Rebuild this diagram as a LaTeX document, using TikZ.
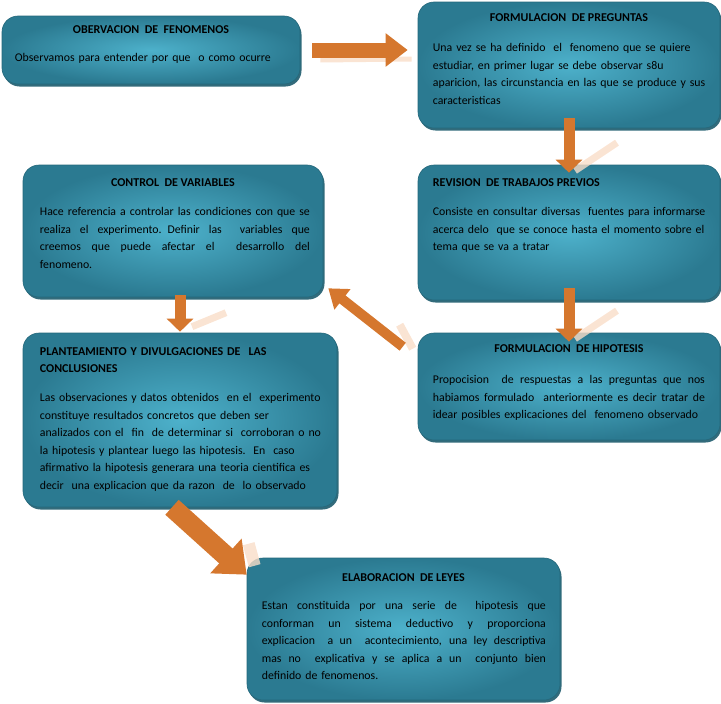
\documentclass[tikz,border=0pt]{standalone}
\usepackage{fontspec}
\setmainfont{Carlito}
\usetikzlibrary{arrows.meta,shadows,calc}

\definecolor{boxlight}{HTML}{4DB1CB}
\definecolor{boxdark}{HTML}{2B7A91}
\definecolor{boxrim}{HTML}{1D5B6D}
\definecolor{arroworange}{HTML}{D5772E}
\definecolor{arrowglow}{HTML}{F9DDC8}

\newcommand\fullline[2]{\makebox[#1][s]{\spaceskip=0.22em plus 1fil\relax #2}\\}

\tikzset{
  stagebox/.style={rounded corners=16pt, inner color=boxlight, outer color=boxdark,
    draw=boxdark!85!black, line width=0.6pt,
    drop shadow={shadow xshift=1.5pt, shadow yshift=-2.5pt, fill=boxrim, opacity=0.9}},
  stagetitle/.style={font=\bfseries\fontsize{12}{17}\selectfont, inner sep=0pt, anchor=base},
  stagetext/.style={font=\fontsize{11.8}{17.5}\selectfont, inner sep=0pt, align=left,
    anchor=base west, text width=#1},
  flow/.style={arroworange, line width=11pt, -{Triangle[length=13pt,width=26pt]}},
  glow/.style={arrowglow, line width=7pt, opacity=0.8},
}

\begin{document}
\begin{tikzpicture}[x=1pt, y=-1pt]
    \useasboundingbox (0,0) rectangle (721,704);

    % Boxes
    \node[stagebox, minimum width=298pt, minimum height=68pt] (obs) at (151,50) {};
    \node[stagebox, minimum width=302pt, minimum height=126pt] (preg) at (569,65) {};
    \node[stagebox, minimum width=302pt, minimum height=135pt] (rev) at (569,232.5) {};
    \node[stagebox, minimum width=300pt, minimum height=132pt] (ctrl) at (173,231) {};
    \node[stagebox, minimum width=302pt, minimum height=107pt] (hip) at (569,386.5) {};
    \node[stagebox, minimum width=314pt, minimum height=174pt] (plan) at (180,420) {};
    \node[stagebox, minimum width=313pt, minimum height=142pt] (ley) at (403.5,629) {};

    % Titles
    \node[stagetitle] (obs-title) at ($(obs.north)+(0,18)$) {OBERVACION\ \ DE\ \ FENOMENOS};
    \node[stagetitle] (preg-title) at ($(preg.north)+(0,20)$) {FORMULACION\ \ DE PREGUNTAS};
    \node[stagetitle, anchor=base west] (rev-title) at ($(rev.north west)+(15,22)$) {REVISION\ \ DE TRABAJOS PREVIOS};
    \node[stagetitle] (ctrl-title) at ($(ctrl.north)+(0,22)$) {CONTROL\ \ DE VARIABLES};
    \node[stagetitle] (hip-title) at ($(hip.north)+(0,20)$) {FORMULACION\ \ DE HIPOTESIS};
    \node[stagetext=290pt, font=\bfseries\fontsize{12}{17}\selectfont] (plan-title) at ($(plan.north west)+(17,23)$)
        {PLANTEAMIENTO Y DIVULGACIONES DE\ \ LAS\\ CONCLUSIONES};
    \node[stagetitle] (ley-title) at ($(ley.north)+(0,24)$) {ELABORACION\ \ DE LEYES};

    % Texts
    \node[stagetext=285pt] (obs-text) at ($(obs.north west)+(13,46)$)
        {Observamos para entender por que\ \ o como ocurre};
    \node[stagetext=285pt] (preg-text) at ($(preg.north west)+(15,50)$)
        {Una vez se ha definido\ \ el\ \ fenomeno que se quiere\\
         estudiar, en primer lugar se debe observar s8u\\
         aparicion, las circunstancia en las que se produce y sus\\
         caracteristicas};
    \node[stagetext=285pt] (rev-text) at ($(rev.north west)+(15,51)$)
        {Consiste en consultar diversas\ \ fuentes para informarse\\
         acerca delo\ \ que se conoce hasta el momento sobre el\\
         tema que se va a tratar};
    \node[stagetext=272pt] (ctrl-text) at ($(ctrl.north west)+(17,51)$)
        {\fullline{270pt}{Hace referencia a controlar las condiciones con que se}
         \fullline{270pt}{realiza el experimento. Definir las\ \ variables que}
         \fullline{270pt}{creemos que puede afectar el\ \ desarrollo del}
         fenomeno.};
    \node[stagetext=274pt] (hip-text) at ($(hip.north west)+(15,51)$)
        {\fullline{272pt}{Propocision\ \ de respuestas a las preguntas que nos}
         \fullline{272pt}{habiamos formulado\ \ anteriormente es decir tratar de}
         idear posibles explicaciones del\ \ fenomeno observado};
    \node[stagetext=295pt] (plan-text) at ($(plan.north west)+(17,69)$)
        {Las observaciones y datos obtenidos\ \ en el\ \ experimento\\
         constituye resultados concretos que deben ser\\
         analizados con el\ \ fin\ \ de determinar si\ \ corroboran o no\\
         la hipotesis y plantear luego las hipotesis.\ \ En\ \ caso\\
         afirmativo la hipotesis generara una teoria cientifica es\\
         decir\ \ una explicacion que da razon\ \ de\ \ lo observado};
    \node[stagetext=286pt] (ley-text) at ($(ley.north west)+(15,52)$)
        {\fullline{284pt}{Estan constituida por una serie de\ \ hipotesis que}
         \fullline{284pt}{conforman un sistema deductivo y proporciona}
         \fullline{284pt}{explicacion\ \ a un\ \ acontecimiento, una ley descriptiva}
         \fullline{284pt}{mas no\ \ explicativa y se aplica a un\ \ conjunto bien}
         definido de fenomenos.};

    % Glow under the arrows
    \draw[glow, line width=5pt] ($(obs.east)+(20,10)$) -- ($(preg.west)+(-6,-6)$);
    \draw[glow] ($(rev.north)+(6,6)$) -- ++(42,-28);
    \draw[glow] ($(hip.north)+(6,6)$) -- ++(42,-28);
    \draw[glow] ($(plan.north)+(12,-6)$) -- ++(34,-14);
    \draw[glow, line width=8pt] ($(hip.north west)+(-5,16)$) -- ($(hip.north west)+(-18,-8)$);
    \draw[glow, line width=12pt] ($(ley.north west)+(2,-14)$) -- ++(6,22);

    % Arrows
    \draw[flow, line width=15pt, -{Triangle[length=22pt,width=32pt]}, shorten <=12pt, shorten >=10pt]
        (obs.east) -- (obs.east -| preg.west);
    \draw[flow, shorten <=-10pt, shorten >=-8pt] (preg.south) -- (rev.north);
    \draw[flow, shorten <=-12pt, shorten >=-9pt] (rev.south) -- (hip.north);
    \draw[flow, shorten <=-2pt, shorten >=1pt] ($(ctrl.south)+(7,0)$) -- ($(ctrl.south |- plan.north)+(7,0)$);
    \draw[flow, line width=10pt, -{Triangle[length=18pt,width=25pt]}]
        ($(hip.north west)+(-15,14)$) -- ($(ctrl.south east)+(5,-9)$);
    \draw[flow, line width=20pt, -{Triangle[length=28pt,width=45pt]}]
        ($(plan.south)+(-8,0)$) -- ($(ley.north west)+(0,17)$);
\end{tikzpicture}
\end{document}
